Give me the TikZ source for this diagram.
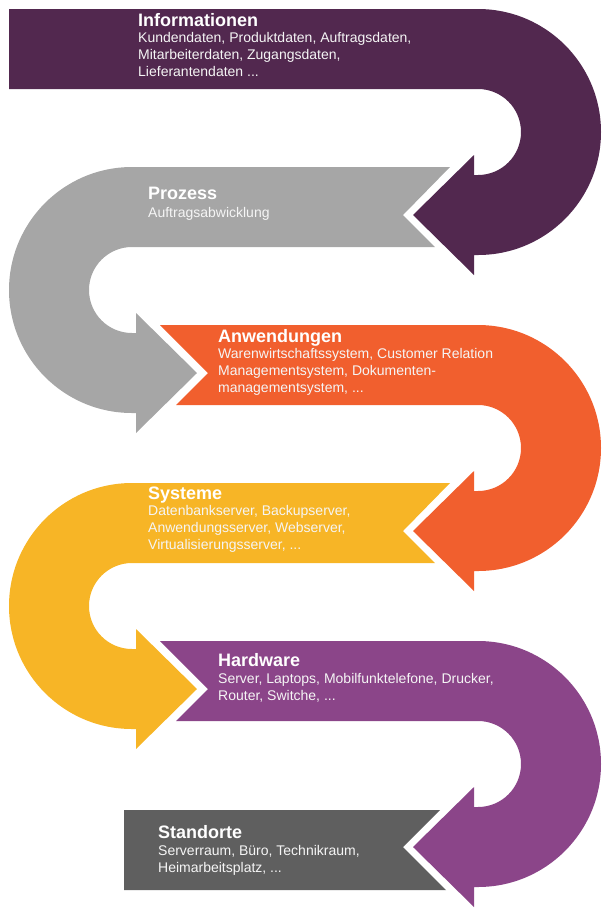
\documentclass[tikz,border=0pt]{standalone}
\usepackage{fontspec}
\setmainfont{Liberation Sans}
\usetikzlibrary{positioning}

\definecolor{infocol}{HTML}{52284F}
\definecolor{proccol}{HTML}{A6A6A6}
\definecolor{appcol}{HTML}{F15F2E}
\definecolor{syscol}{HTML}{F7B526}
\definecolor{hwcol}{HTML}{8B4589}
\definecolor{loccol}{HTML}{5F5F5F}

\tikzset{
  head/.style={anchor=base west,inner sep=0pt,text=white,font=\fontsize{18}{20}\selectfont\bfseries},
  body/.style={anchor=base west,inner sep=0pt,align=left,text=white!92!gray,font=\fontsize{14}{16.8}\selectfont}
}

\begin{document}
\begin{tikzpicture}[x=1pt,y=-1pt]
	\useasboundingbox (0,0) rectangle (610,922);

	\fill[infocol] (9,9) -- (478,9) arc[start angle=-90,end angle=90,radius=123] -- (474,255) -- (474,275) -- (413,215) -- (474,155) -- (474,175) -- (478,175) arc[start angle=90,end angle=-90,radius=43] -- (9,89) -- cycle;
	\fill[proccol] (450,167) -- (132,167) arc[start angle=-90,end angle=-270,radius=123] -- (136,413) -- (136,433) -- (197,373) -- (136,313) -- (136,333) -- (132,333) arc[start angle=90,end angle=270,radius=43] -- (435,247) -- (403,215) -- cycle;
	\fill[appcol] (160,325) -- (478,325) arc[start angle=-90,end angle=90,radius=123] -- (474,571) -- (474,591) -- (413,531) -- (474,471) -- (474,491) -- (478,491) arc[start angle=90,end angle=-90,radius=43] -- (176,405) -- (208,373) -- cycle;
	\fill[syscol] (450,483) -- (132,483) arc[start angle=-90,end angle=-270,radius=123] -- (136,729) -- (136,749) -- (197,689) -- (136,629) -- (136,649) -- (132,649) arc[start angle=90,end angle=270,radius=43] -- (435,563) -- (403,531) -- cycle;
	\fill[hwcol] (160,641) -- (478,641) arc[start angle=-90,end angle=90,radius=123] -- (474,887) -- (474,907) -- (413,847) -- (474,787) -- (474,807) -- (478,807) arc[start angle=90,end angle=-90,radius=43] -- (176,721) -- (208,689) -- cycle;
	\fill[loccol] (124,810) -- (440,810) -- (403,847) -- (446,890) -- (124,890) -- cycle;

	\node[head] (info) at (138,26) {Informationen};
	\node[body] (infotext) at (138,76) {Kundendaten, Produktdaten, Auftragsdaten,\\Mitarbeiterdaten, Zugangsdaten,\\Lieferantendaten ...};
	\node[head] (proc) at (148,199) {Prozess};
	\node[body] (proctext) at (148,217) {Auftragsabwicklung};
	\node[head] (app) at (218,342) {Anwendungen};
	\node[body] (apptext) at (218,392) {Warenwirtschaftssystem, Customer Relation\\Managementsystem, Dokumenten-\\managementsystem, ...};
	\node[head] (sys) at (148,499) {Systeme};
	\node[body] (systext) at (148,549) {Datenbankserver, Backupserver,\\Anwendungsserver, Webserver,\\Virtualisierungsserver, ...};
	\node[head] (hw) at (218,666) {Hardware};
	\node[body] (hwtext) at (218,700) {Server, Laptops, Mobilfunktelefone, Drucker,\\Router, Switche, ...};
	\node[head] (loc) at (158,838) {Standorte};
	\node[body] (loctext) at (158,872) {Serverraum, Büro, Technikraum,\\Heimarbeitsplatz, ...};
\end{tikzpicture}
\end{document}
